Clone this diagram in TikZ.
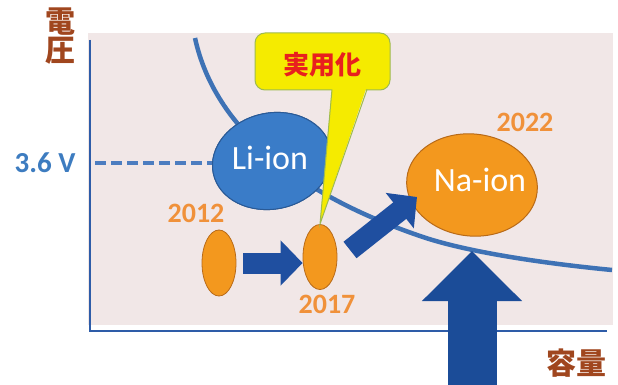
\documentclass[tikz,border=0pt]{standalone}
\usepackage{fontspec}
\setmainfont{Carlito}
\newfontfamily\jpfont{Noto Sans CJK JP}
\usetikzlibrary{arrows.meta,shapes.geometric,calc}
\definecolor{panelc}{HTML}{F1E7E7}
\definecolor{axisc}{HTML}{2E5CA8}
\definecolor{curvec}{HTML}{3E72B5}
\definecolor{brownc}{HTML}{A0461E}
\definecolor{voltc}{HTML}{3D7CC0}
\definecolor{yearc}{HTML}{F0913A}
\definecolor{lifill}{HTML}{3A7CC8}
\definecolor{liedge}{HTML}{2A5A96}
\definecolor{nafill}{HTML}{F3981E}
\definecolor{naedge}{HTML}{B86A18}
\definecolor{arrowc}{HTML}{1F4FA0}
\definecolor{bigarrowc}{HTML}{1B4C98}
\definecolor{calloutc}{HTML}{F5EB00}
\definecolor{calloutedge}{HTML}{9EBA50}
\definecolor{redc}{HTML}{E8201E}
\definecolor{dashblue}{HTML}{4C7DC0}
\definecolor{dashgray}{HTML}{7A7A7A}
\begin{document}
\begin{tikzpicture}[x=1pt,y=-1pt,
  txt/.style={inner sep=0pt, outer sep=0pt},
  year/.style={txt, font=\bfseries\fontsize{28}{28}\selectfont, text=yearc},
  jplbl/.style={txt, font=\jpfont\bfseries\fontsize{30}{31}\selectfont, text=brownc, align=center},
  bigell/.style={ellipse, draw=#1edge, fill=#1fill, line width=1pt, inner sep=0pt},
  smallell/.style={ellipse, draw=naedge, fill=nafill, line width=0.8pt, inner sep=0pt, minimum width=34pt, minimum height=66pt},
  ionlbl/.style={txt, font=\fontsize{34}{34}\selectfont, text=white},
  blockarrow/.style={line width=21pt, arrowc, -{Triangle[width=44pt,length=22pt]}},
]
\useasboundingbox (0,0) rectangle (618,385);
% panel
\fill[panelc] (88,33) rectangle (613,325);
% axes
\coordinate (origin) at (90,331);
\coordinate (ytop) at (90,40);
\coordinate (xend) at (607,331);
\draw[axisc, line width=2.5pt] (ytop) -- (origin) -- (xend);
% curve
\coordinate (naPt) at (472,251);
\draw[curvec, line width=4.5pt] (195,38) .. controls (215,130) and (300,195) .. (420,236)
   .. controls (460,250) and (530,262) .. (612,270);
% Li-ion ellipse
\node[bigell=li, minimum width=120pt, minimum height=96pt, rotate=12] (liE) at (272,161) {};
% dashed 3.6 V line
\coordinate (dashStart) at (95,163);
\begin{scope}[on background layer/.try]
\end{scope}
\draw[dashgray, line width=3pt, dash pattern=on 11pt off 5pt, yshift=-1.5pt] (dashStart) -- (dashStart -| liE.west);
\draw[dashblue, line width=3.5pt, dash pattern=on 11pt off 5pt, yshift=1.2pt] (dashStart) -- (dashStart -| liE.west);
\node[bigell=li, minimum width=120pt, minimum height=96pt, rotate=12] at (272,161) {};
\node[ionlbl] (liT) at (270,158) {Li-ion};
% Na-ion ellipse
\node[bigell=na, minimum width=131pt, minimum height=102pt, rotate=-6] (naE) at (472,185) {};
\node[ionlbl] (naT) at (480,180) {Na-ion};
% small ellipses
\node[smallell] (e2012) at (219,263) {};
\node[smallell, minimum height=65pt] (e2017) at (320,257) {};
% arrows
\draw[blockarrow] ($(e2012.east)+(7,0)$) -- (e2017.west |- e2012.east);
\coordinate (a2s) at (350,250);
\coordinate (a2e) at (417,197);
\draw[blockarrow] (a2s) -- (a2e);
% big arrow
\coordinate (bigTail) at (472,392);
\draw[bigarrowc, line width=49pt, -{Triangle[width=97pt,length=50pt]}] (bigTail) -- (naPt);
% callout
\node[draw=calloutedge, fill=calloutc, line width=1pt, rounded corners=10pt, minimum width=135pt, minimum height=57pt, inner sep=0pt] (callout) at (322.5,61.5) {};
\coordinate (cl) at (332,89);
\coordinate (cr) at (367,89);
\fill[calloutc] ($(cl)+(0,-3)$) -- (e2017.north) -- ($(cr)+(0,-3)$) -- cycle;
\draw[calloutedge, line width=1pt] ($(cl)+(0,0.5)$) -- (e2017.north) -- ($(cr)+(0,0.5)$);
\node[txt, font=\jpfont\bfseries\fontsize{26}{26}\selectfont, text=redc] (cT) at (322,65) {実用化};
% labels
\node[jplbl] (vlab) at (60,36) {電\\[-2pt]圧};
\node[jplbl] (clab) at (576,363) {容量};
\node[txt, font=\bfseries\fontsize{29}{29}\selectfont, text=voltc] (v36) at (45,163) {3.6 V};
\node[year] (y2012) at (196,213) {2012};
\node[year] (y2017) at (327,304) {2017};
\node[year] (y2022) at (525,122) {2022};
\end{tikzpicture}
\end{document}
